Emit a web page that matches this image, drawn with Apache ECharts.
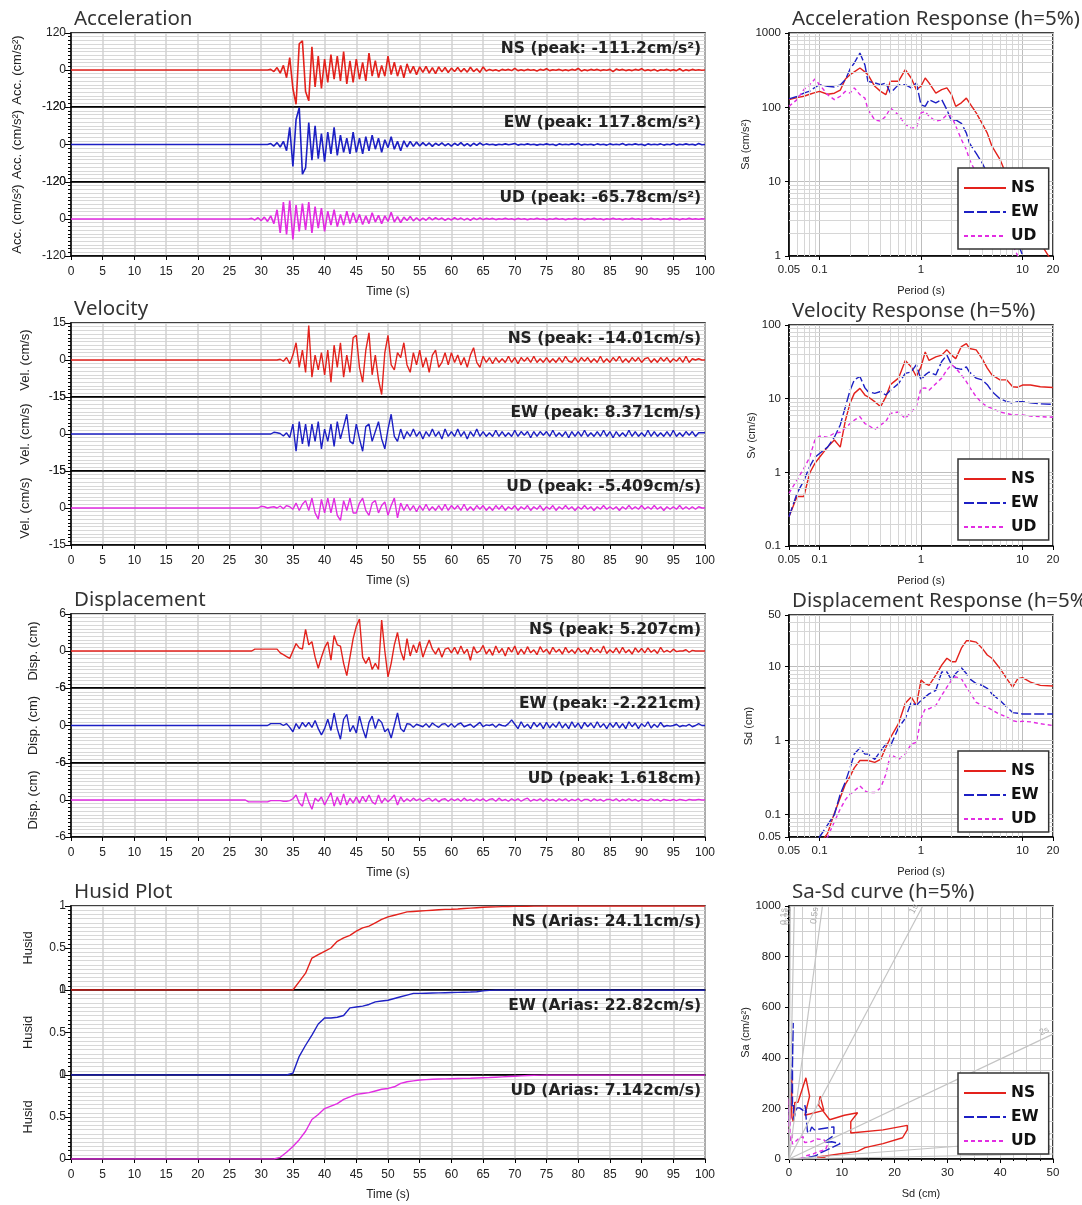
<!DOCTYPE html>
<html>
<head>
<meta charset="utf-8">
<script src="https://cdn.jsdelivr.net/npm/echarts@6/dist/echarts.min.js"></script>
<style>
html, body { margin: 0; background: #fff; }
#main { width: 1082px; height: 1205px; }
</style>
</head>
<body>
<div id="main"></div>
<script>
// time histories: samples every 0.5 s starting at 25 s (flat zero before)
var T0 = 25, DT = 0.5;

var accNS = [
    0, 0, 0, 0, 0, 0, 0, 0, 0, 0,
    0, 0, 0, 2, -5, 8, -10, 15, -25, 40,
    -60, -111, 85, 95, -70, -100, 75, -55, 45, -60,
    35, -40, 50, -30, 45, -35, 60, -45, 30, -40,
    35, -30, 25, -35, 55, -20, 30, -25, 15, -20,
    45, -15, 25, -20, 15, -25, 20, -10, 12, -15,
    10, -8, 12, -10, 8, -12, 10, -6, 8, -8,
    6, -5, 8, -6, 5, -7, 9, -5, 4, -8,
    10, -3, 2, -2, 1, -3, 2, -1, 2, -2,
    5, -2, 1, -2, 2, -1, 1, -3, 2, -1,
    4, -2, 1, -1, 2, -2, 1, -2, 2, -1,
    5, -3, 1, -2, 2, -1, 2, -2, 1, -1,
    2, -5, 3, -1, 2, -2, 1, -2, 2, -1,
    4, -2, 1, -2, 2, -3, 1, -1, 2, -2,
    1, -2, 4, -3, 1, -2, 2, -1, 1, -1,
    0
];
var accEW = [
    0, 0, 0, 0, 0, 0, 0, 0, 0, 0,
    0, 0, 0, 3, -5, 6, -8, 10, -20, 55,
    -70, 80, 118, -95, -75, 70, -50, 60, -45, 35,
    -55, 40, -30, 55, -35, 30, -25, 20, -30, 40,
    -25, 20, -30, 25, -20, 30, -15, 20, -25, 15,
    -10, 25, -15, 10, -20, 12, -8, 10, -6, 8,
    -5, 6, -4, 5, -6, 4, -3, 5, -4, 3,
    -5, 4, -3, 6, -4, 3, -5, 4, -3, 5,
    -2, 2, -1, 1, -2, 1, -1, 2, -1, 1,
    3, -2, 1, -1, 2, -1, 1, -2, 1, -1,
    2, -1, 1, -3, 2, -1, 1, -1, 2, -1,
    3, -2, 1, -1, 1, -2, 2, -1, 1, -2,
    2, -1, 1, -1, 3, -2, 1, -1, 2, -1,
    1, -3, 2, -1, 1, -1, 2, -2, 1, -1,
    3, -2, 1, -1, 2, -1, 1, -2, 3, -1,
    0
];
var accUD = [
    0, 0, 0, 0, 0, 0, 0, 2, -3, 4,
    -5, 6, -8, 10, -15, 30, -45, 55, -50, 60,
    -66, 45, -40, 50, -35, 55, -45, 40, -30, 35,
    -40, 25, -20, 30, -25, 15, -20, 25, -15, 20,
    -12, 15, -18, 10, -15, 20, -10, 12, -15, 10,
    -8, 22, -10, 8, -12, 6, -5, 8, -6, 4,
    -5, 3, -4, 5, -3, 4, -2, 3, -4, 2,
    -3, 4, -2, 3, -3, 2, -4, 3, -2, 3,
    -2, 2, -1, 2, -2, 1, -1, 2, -1, 1,
    -2, 2, -1, 1, -2, 1, -1, 2, -1, 1,
    -2, 1, -1, 2, -1, 1, -2, 1, -1, 2,
    -1, 1, -2, 1, -1, 2, -1, 1, -2, 1,
    -1, 2, -1, 1, -2, 1, -1, 2, -1, 1,
    -2, 1, -1, 2, -1, 1, -2, 1, -1, 2,
    -1, 1, -2, 1, -1, 2, -1, 1, -1, 1,
    0
];

var velNS = [
    0, 0, 0, 0, 0, 0, 0, 0, 0, 0,
    0, 0, 0, 0, 0, 0, 0.3, -0.5, 1, -1.5,
    2, 7, -3, 4, -5, 14, -7, 2, -4, 3,
    -6, 4, -9, 6, -3, 7, -7, 2, -5, 9,
    10, -3, -9, 4, 11, -6, 2, -8, -14, 3,
    10, -2, -4, 3, 1, 7, -2, -5, 3, -2,
    4, -3, 1, -5, 2, 4, -3, -1, 3, -2,
    3, -1, 2, -2, 1, -3, 2, 5, -1, -3,
    1.5, -1, 1, -1.5, 1, -1, 0.5, -1, 1.5, -1,
    1, -1.5, 1, -0.5, 1, -1, 1.5, -1, 0.5, -1,
    1, -1, 0.5, -1, 1, -1, 1.5, -0.5, -1, 1,
    -1, 1, -0.5, 1, -1, 0.5, -1, 1.5, -1, 0.5,
    -1, 1, -0.5, 1.5, -1, 0.5, -1, 1, -0.5, 1,
    -1, 0.5, 1, -1, 0.5, -1, 1, -0.5, 1, -1,
    0.5, -0.5, 1, -1, 1.5, -1, 0.5, 0, 0.5, 0,
    0
];
var velEW = [
    0, 0, 0, 0, 0, 0, 0, 0, 0, 0,
    0, 0, 0, 0, 0.7, 0.5, 0.2, -0.8, 0.5, -1.5,
    4, -7, 5, -4, 4, -5, 4, -3, 5, -6,
    2, -3, 4, -5, 5, -2, 3, 8, -3, -4,
    4, -2, -7, 3, 4, -3, 1, 5, -2, -6,
    2, 8, -1, -3, 2, -2, 1, -1, 2, -1,
    1, -2, 1, -1, 2, -1, 1, -2, 2, -1,
    1, -1, 2, -1, 1, -2, 1, -1, 2, -1,
    1, -1, 0.5, -1, 1.5, -1, 1, -1, 0.5, -1,
    1.5, -1, 1, -0.5, 1, -1.5, 1, -1, 1, -0.5,
    1, -1, 1.5, -1, 0.5, -1, 1, -1.5, 1, -1,
    1, -1, 1.5, -1, 0.5, -1, 1, -1, 1.5, -1,
    1, -1.5, 1, -1, 0.5, -1, 1.5, -1, 1, -1,
    0.5, -1, 1.5, -1, 1, -1, 0.5, -1, 1, -1,
    1.5, -1, 0.5, -1, 1, -0.5, 1, -1, 0.5, 0.5,
    0.5
];
var velUD = [
    0, 0, 0, 0, 0, 0, 0, 0, 0, 0,
    0.7, 0.5, 0, 0.3, 0.5, 0, 0.8, -0.3, 1, 0.5,
    -0.5, 2, -1, 1.5, 3, -1, 4, -2, -4.5, 3.5,
    -2, 4, -2, 4, -3, -5, 3, -1, 4, -2,
    -2, 2, 4, -1, -3, 2, 3, -2, 1, 2.5,
    -3, 1, 4, -4, 2, -1, 1.5, -1, 1, -1.5,
    1, -1, 1.5, -1, 0.5, -1, 1, -1, 1.5, -1,
    1, -0.5, 1, -1, 1.5, -1, 0.5, -1, 1, -0.5,
    1, -1, 0.5, -1, 1, -0.5, 1, -1, 0.5, -0.5,
    1, -1, 0.5, -0.5, 1, -1, 0.5, -0.5, 1, -1,
    0.5, -0.5, 1, -1, 0.5, -0.5, 1, -0.5, 0.5, -1,
    0.5, -0.5, 1, -0.5, 0.5, -1, 0.5, -0.5, 1, -0.5,
    0.5, -0.5, 0.5, -1, 0.5, -0.5, 1, -0.5, 0.5, -0.5,
    1, -0.5, 0.5, -0.5, 1, -0.5, 0.5, -1, 0.5, -0.5,
    0.5, -0.5, 1, -0.5, 0.5, -0.5, 0.5, -0.5, 0.5, 0,
    0
];

var dispNS = [
    0, 0, 0, 0, 0, 0, 0, 0, 0.3, 0.3,
    0.3, 0.3, 0.3, 0.3, 0.3, 0.3, -0.3, -0.6, -0.9, -1.2,
    0, 1.2, 0.5, 0.3, 3.5, 1, 1.5, -1, -2.8, -1,
    0.5, 1.5, -1.5, 2.5, 1, 0.8, -2, -4, -1, 2,
    4, 5.2, -1, -2, -1, -3, -2, -3, 5, 0,
    -4.2, -2, 1, 3, 0, -1.5, 2, -0.8, 1, -0.3,
    1.5, -1, 0.5, 1.8, 0.3, -0.5, 0.5, -1, 0.3, 0.5,
    -0.3, 0.6, -0.5, 0.8, -0.4, 0.3, -1.5, 0.7, -0.3, 0,
    0.9, -0.5, 0.3, -0.7, 0.8, -0.3, 0.4, -0.8, 0.6, -0.2,
    0.8, -0.6, 0.3, -0.5, 0.7, -0.3, 0.2, -0.6, 0.7, -0.2,
    0.3, -0.5, 0.6, -0.2, 0.3, -0.5, 0.6, -0.3, 0.2, -0.4,
    0.5, -0.2, 0.2, -0.5, 0.6, -0.2, 0.3, -0.3, 0.8, -0.4,
    0.2, -0.3, 0.5, -0.4, 0.6, -0.3, 0.2, -0.5, 0.5, -0.2,
    0.4, -0.3, 0.5, -0.2, 0.2, -0.4, 0.6, -0.2, 0.1, -0.2,
    0.3, -0.1, 0, 0, 0.2, -0.2, 0.1, 0, 0, 0,
    0
];
var dispEW = [
    0, 0, 0, 0, 0, 0, 0, 0, 0, 0,
    0, 0, 0, 0.3, 0.3, 0.3, 0.3, 0, 0.3, -0.3,
    -1, 0.3, -0.5, 0.5, -0.2, 0.5, -0.3, 0.8, -0.5, -1.5,
    -0.5, 1, -0.8, 2, -0.5, -2.2, 1, 1.8, -1, 0,
    -1.2, 1.5, -0.5, -2, 0.5, 1.5, -0.5, 1, 0.5, -1,
    -0.5, -2, 0, 2, -0.5, -1, 0.3, 0.2, -0.3, 0.2,
    0, -0.2, 0.3, -0.3, 0.4, 0, -0.3, 0.2, 0.3, -0.2,
    0.3, -0.3, 0.2, 0.4, -0.2, 0, 0.2, -0.3, 0.1, 0.5,
    -0.2, 0.1, 0, 0.2, -0.3, 0.2, 0, -0.1, 0.3, 0.9,
    0.2, -0.5, 0.6, -0.3, 0.2, -0.5, 0.5, -0.2, 0.4, -0.5,
    0.5, -0.4, 0.3, -0.3, 0.6, -0.4, 0.3, -0.5, 0.6, -0.3,
    0.4, -0.5, 0.5, -0.2, 0.4, -0.4, 0.6, -0.3, 0.3, -0.5,
    0.4, -0.3, 0.5, -0.4, 0.3, -0.5, 0.6, -0.2, 0.4, -0.5,
    0.3, -0.2, 0.6, -0.4, 0.2, -0.3, 0.5, -0.2, 0, -0.1,
    0, 0.2, -0.2, 0, -0.1, 0.2, -0.2, 0, 0.3, 0,
    0
];
var dispUD = [
    0, 0, 0, 0, 0, 0, -0.3, -0.3, -0.3, -0.3,
    -0.3, -0.3, -0.3, -0.1, -0.1, -0.1, -0.1, -0.2, -0.2, -0.1,
    0.2, 0.8, -0.5, -1, 1.2, -0.3, -1.5, 0.3, -0.2, 0.5,
    -0.8, 0.2, 1.2, -1, 0.5, -0.8, 1, -0.8, 0.3, -0.5,
    0.5, -0.5, 0.6, -0.3, 0.8, -0.3, -0.7, 0.8, -0.5, 0.3,
    -0.3, 0.2, 0.8, -0.8, 0.5, -0.3, 0.2, -0.2, 0.3, -0.1,
    0.2, -0.2, 0.1, 0.3, -0.2, 0.2, -0.3, 0.1, 0.2, -0.2,
    0.2, -0.1, 0.2, -0.2, 0.3, -0.1, 0.1, -0.2, 0.2, -0.1,
    0.2, -0.2, 0.1, 0.2, -0.2, 0.3, -0.1, 0.1, -0.2, 0.2,
    -0.1, 0.2, -0.2, 0.1, 0.3, -0.2, 0.1, -0.1, 0.2, -0.2,
    0.2, -0.1, 0.1, -0.2, 0.2, -0.1, 0.2, -0.2, 0.1, -0.1,
    0.2, -0.2, 0.1, 0.1, -0.2, 0.2, -0.1, 0.1, -0.2, 0.1,
    0.1, -0.1, 0.2, -0.2, 0.1, -0.1, 0.2, -0.1, 0.1, -0.2,
    0.1, 0, -0.1, 0.2, -0.1, 0.1, -0.2, 0.1, 0, -0.1,
    0.1, -0.1, 0.1, 0, -0.1, 0.1, 0, 0, 0.1, 0,
    0
];

// Husid curves: every 1 s starting at 25 s
var H0 = 25, HDT = 1;
var husidNS = [
    0, 0, 0, 0, 0,
    0, 0, 0, 0, 0,
    0, 0.1, 0.2, 0.38, 0.42,
    0.46, 0.5, 0.58, 0.62, 0.65,
    0.7, 0.74, 0.76, 0.8, 0.84,
    0.87, 0.89, 0.91, 0.93, 0.935,
    0.94, 0.945, 0.95, 0.955, 0.96,
    0.962, 0.965, 0.97, 0.975, 0.98,
    0.985, 0.988, 0.99, 0.992, 0.994,
    0.995, 0.996, 0.997, 0.998, 0.999,
    1, 1, 1, 1, 1,
    1, 1, 1, 1, 1,
    1, 1, 1, 1, 1,
    1, 1, 1, 1, 1,
    1, 1, 1, 1, 1,
    1
];
var husidEW = [
    0, 0, 0, 0, 0,
    0, 0, 0, 0, 0,
    0.02, 0.22, 0.35, 0.47, 0.6,
    0.67, 0.67, 0.68, 0.7, 0.79,
    0.8, 0.81, 0.83, 0.86, 0.87,
    0.88, 0.9, 0.92, 0.94, 0.96,
    0.96, 0.962, 0.964, 0.966, 0.968,
    0.97, 0.972, 0.974, 0.976, 0.98,
    0.99, 0.995, 1, 1, 1,
    1, 1, 1, 1, 1,
    1, 1, 1, 1, 1,
    1, 1, 1, 1, 1,
    1, 1, 1, 1, 1,
    1, 1, 1, 1, 1,
    1, 1, 1, 1, 1,
    1
];
var husidUD = [
    0, 0, 0, 0, 0,
    0, 0, 0, 0.02, 0.08,
    0.15, 0.23, 0.33, 0.47, 0.53,
    0.6, 0.63, 0.66, 0.71, 0.74,
    0.77, 0.78, 0.79, 0.81, 0.83,
    0.84, 0.86, 0.9, 0.92, 0.93,
    0.94, 0.945, 0.95, 0.952, 0.954,
    0.956, 0.958, 0.96, 0.962, 0.965,
    0.968, 0.97, 0.974, 0.978, 0.982,
    0.986, 0.99, 0.994, 0.997, 0.999,
    1, 1, 1, 1, 1,
    1, 1, 1, 1, 1,
    1, 1, 1, 1, 1,
    1, 1, 1, 1, 1,
    1, 1, 1, 1, 1,
    1
];

// response spectra (h=5%)
var periods = [0.05, 0.06, 0.07, 0.08, 0.09, 0.1, 0.12, 0.14, 0.16, 0.18,
    0.2, 0.22, 0.25, 0.28, 0.3, 0.35, 0.4, 0.45, 0.5, 0.6,
    0.7, 0.8, 0.9, 1.0, 1.1, 1.2, 1.4, 1.6, 1.8, 2.0,
    2.2, 2.5, 2.8, 3.0, 3.5, 4, 4.5, 5, 6, 7,
    8, 9, 10, 12, 15, 20];

var saNS = [127, 135, 141, 150, 158, 164, 150, 155, 170, 240,
    275, 300, 338, 300, 275, 192, 164, 148, 224, 224,
    321, 248, 173, 192, 248, 213, 155, 173, 183, 148,
    103, 115, 133, 115, 84, 61, 45, 30, 20, 12,
    7.8, 5.4, 4.2, 2.5, 1.5, 0.8];
var saEW = [130, 140, 155, 165, 185, 202, 192, 188, 200, 236,
    328, 395, 538, 372, 224, 213, 202, 213, 155, 202,
    202, 183, 213, 108, 103, 127, 115, 127, 93, 65,
    68, 61, 45, 33, 24, 18, 13, 9.6, 5.8, 3.5,
    2.3, 1.5, 1.03, 0.6, 0.35, 0.2];
var saUD = [103, 127, 173, 202, 240, 202, 148, 127, 141, 164,
    155, 183, 148, 133, 93, 68, 65, 76, 98, 79,
    59, 53, 53, 84, 88, 76, 65, 68, 79, 76,
    56, 37, 27, 20, 13, 9.1, 6.3, 4.9, 3.1, 2.0,
    1.4, 1.0, 0.8, 0.5, 0.3, 0.15];

var svNS = [0.25, 0.47, 0.47, 0.98, 1.32, 1.6, 2.2, 2.75, 2.2, 5.1,
    8.7, 11.8, 13.8, 11.2, 10.6, 9.1, 7.8, 10.6, 15.5, 19,
    33, 27, 20, 27, 43, 33, 37, 39, 46, 39,
    35, 51, 56, 48, 46, 35, 26, 21, 18, 18,
    14.5, 14.3, 15.3, 15.3, 14.5, 14.2];
var svEW = [0.25, 0.52, 0.77, 1.2, 1.6, 1.8, 2.2, 3.0, 4.4, 7.8,
    13, 18, 20, 14, 12.5, 11.8, 12.5, 11.2, 13, 16,
    22, 23, 29, 18, 21, 23, 21, 32, 39, 29,
    26, 25, 27, 23, 19, 18, 15.5, 12.5, 10, 9.1,
    8.7, 9.1, 9.1, 8.8, 8.5, 8.4];
var svUD = [0.52, 0.79, 1.13, 1.6, 2.75, 3.1, 3.0, 3.4, 3.5, 4.0,
    4.6, 5.1, 5.7, 4.6, 4.4, 3.8, 4.4, 4.9, 6.3, 6.6,
    5.4, 6.6, 7.8, 13.8, 14, 13, 16, 19, 24.6, 29,
    26, 21, 17, 14.5, 10.6, 8.7, 7.8, 7.4, 6.6, 6.3,
    6.0, 6.0, 6.0, 5.8, 5.7, 5.6];

var sdNS = [0.005, 0.01, 0.015, 0.02, 0.03, 0.04, 0.056, 0.105, 0.17, 0.26,
    0.33, 0.43, 0.54, 0.54, 0.54, 0.51, 0.56, 0.81, 1.1, 1.7,
    3.2, 3.9, 3.0, 6.6, 5.9, 5.6, 7.7, 10.5, 13, 11.7,
    11.7, 17.8, 22.4, 22.4, 21.5, 17.8, 14.4, 13, 9.5, 6.9,
    5.3, 6.9, 7.1, 6.2, 5.6, 5.5];
var sdEW = [0.008, 0.013, 0.02, 0.028, 0.04, 0.05, 0.073, 0.1, 0.19, 0.28,
    0.43, 0.66, 0.8, 0.66, 0.66, 0.56, 0.73, 0.9, 0.85, 1.5,
    2.0, 3.3, 3.0, 3.5, 3.9, 4.3, 4.8, 8.5, 8.5, 6.6,
    8.1, 9.7, 8.1, 6.9, 5.9, 5.6, 5.1, 4.3, 3.5, 2.85,
    2.4, 2.35, 2.3, 2.3, 2.3, 2.3];
var sdUD = [0.003, 0.006, 0.01, 0.016, 0.025, 0.04, 0.05, 0.08, 0.12, 0.16,
    0.19, 0.21, 0.245, 0.21, 0.2, 0.2, 0.23, 0.35, 0.66, 0.56,
    0.66, 0.9, 0.95, 2.0, 2.7, 2.7, 3.0, 4.1, 5.3, 6.6,
    7.3, 6.9, 5.3, 4.6, 3.3, 3.0, 2.85, 2.6, 2.27, 2.1,
    1.87, 1.8, 1.83, 1.8, 1.7, 1.6];

// reference period lines in the Sa-Sd plot (s)
var periodLines = [0.1, 0.2, 0.5, 1, 2, 5, 10];

var COLORS = ['#e3221c', '#1d20c4', '#e22ce2'];
var COMP = ['NS', 'EW', 'UD'];
var DASH = ['solid', [10, 3], [4, 3]];
var TXT = '#222';
var FONT = 'Liberation Sans';
var TITLE_STYLE = {fontFamily: 'Noto Sans', fontSize: 20.5, fontWeight: 'normal', color: '#333'};

var myChart = echarts.init(document.getElementById('main'));

var grids = [], xAxes = [], yAxes = [], series = [], titles = [], graphics = [], legends = [];

function toSeries(values, t0, dt) {
    var out = [[0, 0]];
    for (var i = 0; i < values.length; i++) out.push([t0 + i * dt, values[i]]);
    return out;
}

function logMinors(lo, hi) {
    var out = [];
    for (var e = -3; e <= 3; e++) {
        for (var m = 2; m <= 9; m++) {
            var v = +(m * Math.pow(10, e)).toPrecision(3);
            if (v > lo && v < hi) out.push(v);
        }
    }
    return out;
}

function plainNum(v) {
    return String(+(+v).toPrecision(6));
}

// ---------- left column: time histories ----------
var groups = [
    {title: 'Acceleration', tops: [33, 107, 182, 256], lim: 120, step: 120, yName: 'Acc. (cm/s²)', nameGap: 47,
        data: [accNS, accEW, accUD], t0: T0, dt: DT,
        notes: ['NS (peak: -111.2cm/s²)', 'EW (peak: 117.8cm/s²)', 'UD (peak: -65.78cm/s²)']},
    {title: 'Velocity', tops: [323, 397, 471, 545], lim: 15, step: 15, yName: 'Vel. (cm/s)', nameGap: 39,
        data: [velNS, velEW, velUD], t0: T0, dt: DT,
        notes: ['NS (peak: -14.01cm/s)', 'EW (peak: 8.371cm/s)', 'UD (peak: -5.409cm/s)']},
    {title: 'Displacement', tops: [614, 688, 763, 837], lim: 6, step: 6, yName: 'Disp. (cm)', nameGap: 31,
        data: [dispNS, dispEW, dispUD], t0: T0, dt: DT,
        notes: ['NS (peak: 5.207cm)', 'EW (peak: -2.221cm)', 'UD (peak: 1.618cm)']},
    {title: 'Husid Plot', tops: [906, 990, 1075, 1159], lim: 1, step: 0.5, yName: 'Husid', nameGap: 36, husid: true,
        data: [husidNS, husidEW, husidUD], t0: H0, dt: HDT,
        notes: ['NS (Arias: 24.11cm/s)', 'EW (Arias: 22.82cm/s)', 'UD (Arias: 7.142cm/s)']}
];

groups.forEach(function (g) {
    titles.push({text: g.title, left: 74, top: g.tops[0] - 24, padding: 0, textStyle: TITLE_STYLE});
    for (var k = 0; k < 3; k++) {
        var idx = grids.length;
        var bottom = k === 2;
        grids.push({
            left: 71, width: 634, top: g.tops[k], height: g.tops[k + 1] - g.tops[k],
            show: true, borderColor: '#000', borderWidth: 1.5, backgroundColor: '#fff'
        });
        xAxes.push({
            gridIndex: idx, type: 'value', min: 0, max: 100, interval: 5,
            axisLine: {show: true, onZero: false, lineStyle: {color: '#000', width: 1.5}},
            axisTick: {show: bottom, length: 4, lineStyle: {color: '#000'}},
            axisLabel: {show: bottom, fontFamily: FONT, fontSize: 12, color: TXT, margin: 10},
            splitLine: {show: true, lineStyle: {color: '#d2d2d2', width: 1.5}},
            name: bottom ? 'Time (s)' : '', nameLocation: 'middle', nameGap: 30,
            nameTextStyle: {fontFamily: FONT, fontSize: 12, color: TXT}
        });
        yAxes.push({
            gridIndex: idx, type: 'value',
            min: g.husid ? 0 : -g.lim, max: g.lim, interval: g.step,
            axisLine: {show: true, lineStyle: {color: '#000', width: 1.5}},
            axisTick: {show: true, length: 6, lineStyle: {color: '#000'}},
            minorTick: {show: true, splitNumber: 10, length: 3, lineStyle: {color: '#000'}},
            splitLine: {show: true, lineStyle: {color: '#d8d8d8', width: 1}},
            minorSplitLine: {show: true, lineStyle: {color: '#d8d8d8', width: 1}},
            axisLabel: {fontFamily: FONT, fontSize: 12, color: TXT, margin: 5},
            name: g.yName, nameLocation: 'middle', nameRotate: 90, nameGap: g.nameGap,
            nameTextStyle: {fontFamily: FONT, fontSize: 13, color: TXT}
        });
        series.push({
            name: g.title + ' ' + COMP[k], type: 'line', xAxisIndex: idx, yAxisIndex: idx,
            data: toSeries(g.data[k], g.t0, g.dt),
            symbol: 'none', showSymbol: false, animation: false, z: 3,
            lineStyle: {color: COLORS[k], width: g.title === 'Acceleration' ? 1.6 : 1.4}, itemStyle: {color: COLORS[k]}
        });
        graphics.push({
            type: 'text', right: 381, top: g.tops[k] + 8, z: 100,
            style: {text: g.notes[k], fill: '#222', font: 'bold 15.5px "DejaVu Sans"'}
        });
    }
});

// ---------- right column: response spectra ----------
var spectra = [
    {title: 'Acceleration Response (h=5%)', top: 33, height: 223, yMin: 1, yMax: 1000, yName: 'Sa (cm/s²)', legendTop: 168,
        data: [saNS, saEW, saUD]},
    {title: 'Velocity Response (h=5%)', top: 325, height: 221, yMin: 0.1, yMax: 100, yName: 'Sv (cm/s)', legendTop: 459,
        data: [svNS, svEW, svUD]},
    {title: 'Displacement Response (h=5%)', top: 615, height: 222, yMin: 0.05, yMax: 50, yName: 'Sd (cm)', legendTop: 751,
        data: [sdNS, sdEW, sdUD]}
];

function rightAxisStyle(idx) {
    return {
        gridIndex: idx,
        axisLine: {show: true, onZero: false, lineStyle: {color: '#000', width: 1.5}},
        axisTick: {show: true, length: 4, lineStyle: {color: '#000'}},
        axisLabel: {fontFamily: FONT, fontSize: 11.5, color: TXT, margin: 8, formatter: plainNum},
        splitLine: {show: true, lineStyle: {color: '#bdbdbd', width: 1}},
        nameLocation: 'middle',
        nameTextStyle: {fontFamily: FONT, fontSize: 11, color: TXT}
    };
}

function addLegend(top) {
    legends.push({
        data: COMP, orient: 'vertical', left: 958, top: top,
        itemWidth: 42, itemHeight: 12, itemGap: 8, padding: [12, 10, 5, 5],
        borderColor: '#333', borderWidth: 1.5, backgroundColor: '#fff', selectedMode: false, z: 20,
        itemStyle: {opacity: 0},
        textStyle: {fontFamily: 'DejaVu Sans', fontWeight: 'bold', fontSize: 15.5, color: '#111'}
    });
}

spectra.forEach(function (s) {
    var idx = grids.length;
    titles.push({text: s.title, left: 792, top: s.top - 24, padding: 0, textStyle: TITLE_STYLE});
    grids.push({left: 789, width: 264, top: s.top, height: s.height,
        show: true, borderColor: '#000', borderWidth: 1.5, backgroundColor: '#fff'});
    xAxes.push(Object.assign(rightAxisStyle(idx), {
        type: 'log', logBase: 10, min: 0.05, max: 20, name: 'Period (s)', nameGap: 29
    }));
    yAxes.push(Object.assign(rightAxisStyle(idx), {
        type: 'log', logBase: 10, min: s.yMin, max: s.yMax, name: s.yName, nameRotate: 90, nameGap: 20
    }));
    // minor log grid lines
    var gridLines = logMinors(0.05, 20).map(function (v) { return {xAxis: v}; })
        .concat(logMinors(s.yMin, s.yMax).map(function (v) { return {yAxis: v}; }));
    series.push({
        name: 'grid', type: 'line', xAxisIndex: idx, yAxisIndex: idx, data: [], z: 1, animation: false,
        markLine: {silent: true, symbol: ['none', 'none'], label: {show: false}, animation: false,
            lineStyle: {color: '#d6d6d6', width: 1, type: 'solid'}, data: gridLines}
    });
    for (var k = 0; k < 3; k++) {
        series.push({
            name: COMP[k], type: 'line', xAxisIndex: idx, yAxisIndex: idx,
            data: periods.map(function (p, i) { return [p, s.data[k][i]]; }),
            symbol: 'none', showSymbol: false, animation: false, z: 3,
            lineStyle: {color: COLORS[k], width: 1.4, type: DASH[k]}, itemStyle: {color: COLORS[k]}
        });
    }
    addLegend(s.legendTop);
});

// Sa-Sd curve
(function () {
    var idx = grids.length;
    titles.push({text: 'Sa-Sd curve (h=5%)', left: 792, top: 906 - 24, padding: 0, textStyle: TITLE_STYLE});
    grids.push({left: 789, width: 264, top: 906, height: 253,
        show: true, borderColor: '#000', borderWidth: 1.5, backgroundColor: '#fff'});
    xAxes.push(Object.assign(rightAxisStyle(idx), {
        type: 'value', min: 0, max: 50, interval: 10, name: 'Sd (cm)', nameGap: 29,
        minorTick: {show: true, splitNumber: 4, length: 2, lineStyle: {color: '#000'}},
        minorSplitLine: {show: true, lineStyle: {color: '#cfcfcf', width: 1}},
        splitLine: {show: true, lineStyle: {color: '#cfcfcf', width: 1}}
    }));
    yAxes.push(Object.assign(rightAxisStyle(idx), {
        type: 'value', min: 0, max: 1000, interval: 200, name: 'Sa (cm/s²)', nameRotate: 90, nameGap: 20,
        minorTick: {show: true, splitNumber: 4, length: 2, lineStyle: {color: '#000'}},
        minorSplitLine: {show: true, lineStyle: {color: '#cfcfcf', width: 1}},
        splitLine: {show: true, lineStyle: {color: '#cfcfcf', width: 1}}
    }));
    var lines = periodLines.map(function (T) {
        var k = Math.pow(2 * Math.PI / T, 2);
        var end = 1000 / k <= 50 ? [1000 / k, 1000] : [50, 50 * k];
        return [{coord: [0, 0]}, {coord: end, label: {formatter: T + 's'}}];
    });
    series.push({
        name: 'grid', type: 'line', xAxisIndex: idx, yAxisIndex: idx, data: [], z: 1, animation: false,
        markLine: {silent: true, symbol: ['none', 'none'], animation: false,
            label: {show: true, position: 'insideEndTop', fontSize: 9, color: '#aaa', distance: 2},
            lineStyle: {color: '#c4c4c4', width: 1.2, type: 'solid'}, data: lines}
    });
    var sd = [sdNS, sdEW, sdUD], sa = [saNS, saEW, saUD];
    for (var k = 0; k < 3; k++) {
        series.push({
            name: COMP[k], type: 'line', xAxisIndex: idx, yAxisIndex: idx,
            data: sd[k].map(function (d, i) { return [d, sa[k][i]]; }),
            symbol: 'none', showSymbol: false, animation: false, z: 3,
            lineStyle: {color: COLORS[k], width: 1.4, type: DASH[k]}, itemStyle: {color: COLORS[k]}
        });
    }
    addLegend(1073);
})();

var option = {
    backgroundColor: '#fff',
    animation: false,
    title: titles,
    grid: grids,
    xAxis: xAxes,
    yAxis: yAxes,
    legend: legends,
    graphic: graphics,
    series: series
};

myChart.setOption(option);
</script>
</body>
</html>
